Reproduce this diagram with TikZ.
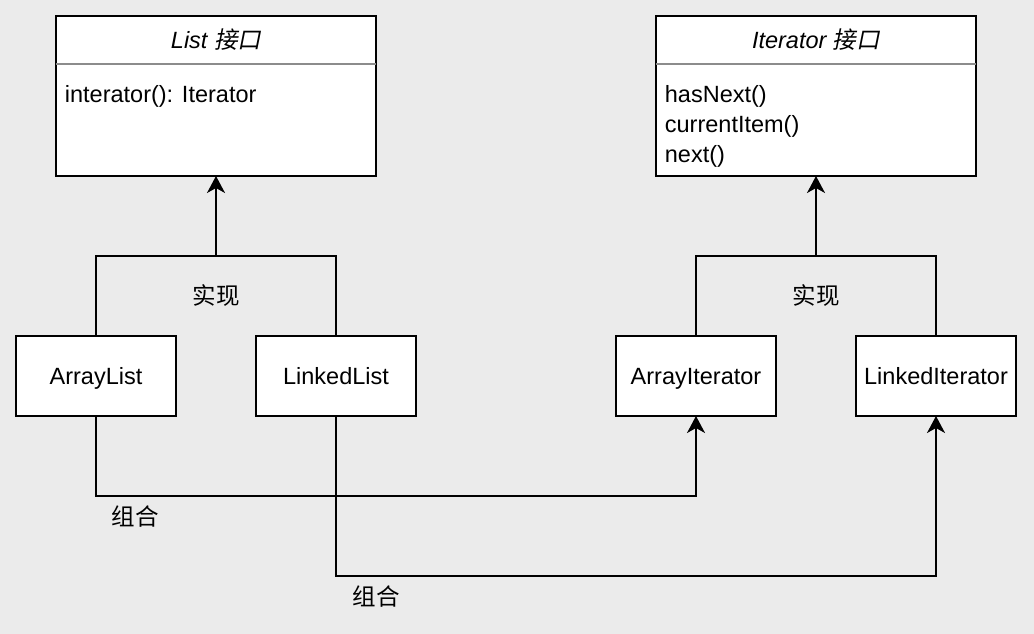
\documentclass[tikz,border=0pt]{standalone}
\usepackage{fontspec}
\setmainfont{Liberation Sans}
\newfontfamily\cjk{Noto Sans CJK SC}
\newfontfamily\cjkit[FakeSlant=0.2]{Noto Sans CJK SC}
\usetikzlibrary{arrows.meta,positioning}
\definecolor{canvas}{RGB}{235,235,235}
\definecolor{divider}{RGB}{140,140,140}

\begin{document}
\begin{tikzpicture}[x=1pt,y=1pt,>={Stealth[length=17pt,width=18pt,inset=5pt]},
    line width=1.8pt,node distance=80pt,
    every node/.style={font=\fontsize{23.5}{30}\selectfont},
    iface/.style={draw,fill=white,minimum width=320pt,minimum height=160pt,inner sep=0pt,outer sep=0pt},
    impl/.style={draw,fill=white,minimum width=160pt,minimum height=80pt,inner sep=0pt,outer sep=0pt,
      text height=19pt,text depth=3pt},
    members/.style={anchor=north west,align=left,inner sep=0pt}]

            \fill[canvas,use as bounding box] (0,0) rectangle (1034,-634);

            % interfaces
            \node[iface] (list) at (216,-96) {};

            \node[iface] (iter) [right=280pt of list] {};

            \node (listname) at ([yshift=-24pt]list.north) {\itshape List \cjkit 接口};

            \node (itername) at ([yshift=-24pt]iter.north) {\itshape Iterator \cjkit 接口};

            \draw[divider] ([yshift=-48pt]list.north west) -- ([yshift=-48pt]list.north east);

            \draw[divider] ([yshift=-48pt]iter.north west) -- ([yshift=-48pt]iter.north east);

            \node[members] (listops) at ([shift={(8pt,-69pt)}]list.north west) {interator(): Iterator};

            \node[members] (iterops) at ([shift={(8pt,-69pt)}]iter.north west) {hasNext()\\currentItem()\\next()};

            % implementations
            \node[impl] (arraylist) at (96,-376) {ArrayList};

            \node[impl] (linkedlist) [right=of arraylist] {LinkedList};

            \node[impl] (arrayiter) at (696,-376) {ArrayIterator};

            \node[impl] (linkediter) [right=of arrayiter] {LinkedIterator};

            % realisation
            \coordinate (listjoin) at ([yshift=-80pt]list.south);

            \coordinate (iterjoin) at ([yshift=-80pt]iter.south);

            \draw (arraylist.north) |- (listjoin) -| (linkedlist.north);

            \draw (arrayiter.north) |- (iterjoin) -| (linkediter.north);

            \draw[->] (listjoin) -- (list.south);

            \draw[->] (iterjoin) -- (iter.south);

            \node (listimpl) at ([yshift=-40pt]listjoin) {\cjk 实现};

            \node (iterimpl) at ([yshift=-40pt]iterjoin) {\cjk 实现};

            % composition
            \draw[->] (arraylist.south) -- ++(0,-80) coordinate (arraybend) -| (arrayiter.south);

            \draw[->] (linkedlist.south) -- ++(0,-160) coordinate (linkedbend) -| (linkediter.south);

            \node (arraycombo) at ([shift={(39pt,-21pt)}]arraybend) {\cjk 组合};

            \node (linkedcombo) at ([shift={(40pt,-21pt)}]linkedbend) {\cjk 组合};

        \end{tikzpicture}
\end{document}
